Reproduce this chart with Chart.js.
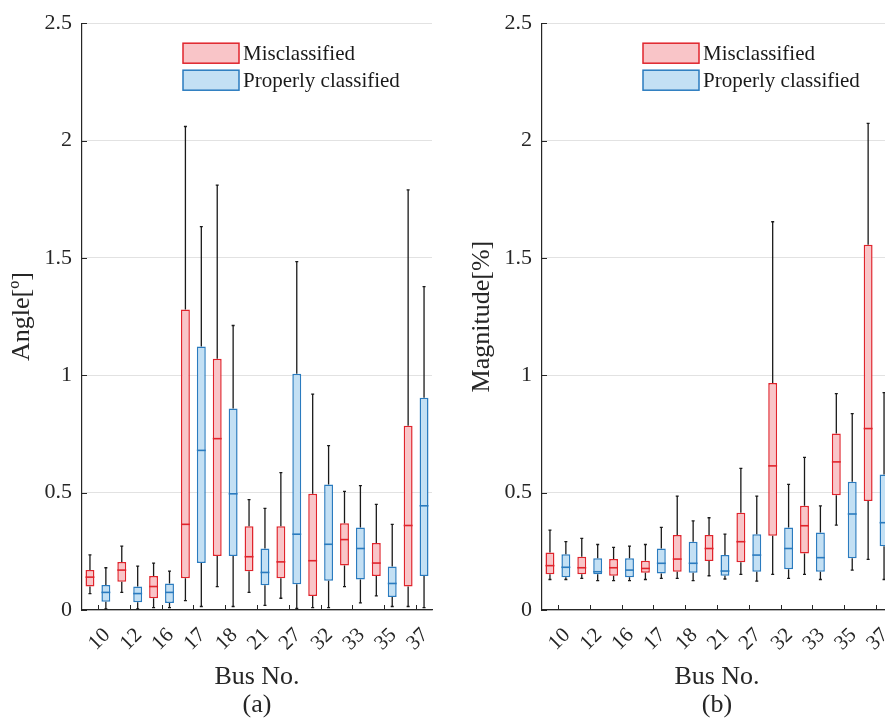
<!DOCTYPE html>
<html>
<head>
<meta charset="utf-8">
<title>Angle / Magnitude box plots per bus</title>
<script src="https://cdn.jsdelivr.net/npm/chart.js@4.4.0/dist/chart.umd.min.js"></script>
<style>
  html, body { margin: 0; padding: 0; background: #fff; overflow: hidden; }
  .panel { position: absolute; top: 0; width: 440px; height: 725px; }
  #panel-a { left: 0; }
  #panel-b { left: 460px; }
</style>
</head>
<body>
<div class="panel" id="panel-a"><canvas id="chart-a" width="440" height="725"></canvas></div>
<div class="panel" id="panel-b"><canvas id="chart-b" width="440" height="725"></canvas></div>
<script>
const buses = ['10', '12', '16', '17', '18', '21', '27', '32', '33', '35', '37'];
const yTicks = [0, 0.5, 1, 1.5, 2, 2.5];
const seriesNames = ['Misclassified', 'Properly classified'];

// (a) angle error, misclassified
const angMisMin = [0.07, 0.075, 0.01, 0.04, 0.10, 0.075, 0.05, 0.01, 0.10, 0.06, 0.015];
const angMisQ1  = [0.10, 0.12, 0.05, 0.135, 0.23, 0.165, 0.135, 0.06, 0.19, 0.145, 0.10];
const angMisMed = [0.14, 0.17, 0.10, 0.365, 0.73, 0.227, 0.205, 0.21, 0.30, 0.20, 0.36];
const angMisQ3  = [0.17, 0.205, 0.145, 1.28, 1.07, 0.357, 0.357, 0.495, 0.37, 0.285, 0.785];
const angMisMax = [0.235, 0.272, 0.20, 2.06, 1.81, 0.47, 0.585, 0.92, 0.505, 0.45, 1.79];

// (a) angle error, properly classified
const angOkMin = [0.005, 0.005, 0.01, 0.015, 0.015, 0.02, 0.007, 0.01, 0.03, 0.015, 0.01];
const angOkQ1  = [0.035, 0.033, 0.03, 0.20, 0.23, 0.105, 0.11, 0.125, 0.13, 0.055, 0.145];
const angOkMed = [0.075, 0.07, 0.075, 0.68, 0.495, 0.16, 0.323, 0.28, 0.262, 0.113, 0.444];
const angOkQ3  = [0.106, 0.10, 0.113, 1.123, 0.858, 0.262, 1.007, 0.535, 0.352, 0.185, 0.904];
const angOkMax = [0.18, 0.187, 0.166, 1.633, 1.212, 0.433, 1.484, 0.70, 0.53, 0.365, 1.378];

// (b) magnitude error, misclassified
const magMisMin = [0.13, 0.135, 0.125, 0.13, 0.135, 0.146, 0.152, 0.152, 0.152, 0.362, 0.216];
const magMisQ1  = [0.152, 0.152, 0.146, 0.159, 0.163, 0.209, 0.203, 0.316, 0.241, 0.489, 0.464];
const magMisMed = [0.189, 0.18, 0.18, 0.177, 0.217, 0.262, 0.291, 0.614, 0.359, 0.631, 0.773];
const magMisQ3  = [0.245, 0.227, 0.217, 0.21, 0.319, 0.319, 0.414, 0.967, 0.444, 0.752, 1.556];
const magMisMax = [0.34, 0.305, 0.267, 0.279, 0.485, 0.393, 0.603, 1.654, 0.65, 0.922, 2.073];

// (b) magnitude error, properly classified
const magOkMin = [0.13, 0.125, 0.125, 0.135, 0.125, 0.132, 0.123, 0.135, 0.13, 0.17, 0.13];
const magOkQ1  = [0.139, 0.152, 0.139, 0.156, 0.159, 0.146, 0.163, 0.174, 0.163, 0.22, 0.272];
const magOkMed = [0.182, 0.163, 0.17, 0.199, 0.199, 0.166, 0.234, 0.262, 0.223, 0.409, 0.372];
const magOkQ3  = [0.238, 0.22, 0.22, 0.262, 0.291, 0.234, 0.323, 0.352, 0.33, 0.546, 0.577];
const magOkMax = [0.291, 0.279, 0.272, 0.352, 0.38, 0.323, 0.485, 0.535, 0.444, 0.837, 0.926];

const FONT = '"Liberation Serif", "Times New Roman", serif';
const INK = '#262626';
const RED = { edge: '#e0242c', fill: '#f9c5c8' };
const BLUE = { edge: '#2a7bbf', fill: '#c3e0f4' };

// whiskers + median lines on top of the floating bars
const boxWhiskers = {
  id: 'boxWhiskers',
  afterDatasetsDraw(chart) {
    const { ctx } = chart;
    const y = chart.scales.y;
    chart.data.datasets.forEach((ds, di) => {
      chart.getDatasetMeta(di).data.forEach((bar, i) => {
        const x = bar.x, half = bar.width / 2;
        const pMin = y.getPixelForValue(ds.wMin[i]);
        const pMax = y.getPixelForValue(ds.wMax[i]);
        const pQ1 = y.getPixelForValue(ds.data[i][0]);
        const pQ3 = y.getPixelForValue(ds.data[i][1]);
        const pMed = y.getPixelForValue(ds.median[i]);
        ctx.save();
        ctx.strokeStyle = '#1a1a1a';
        ctx.lineWidth = 1.3;
        ctx.beginPath();
        ctx.moveTo(x, pQ3); ctx.lineTo(x, pMax);
        ctx.moveTo(x, pQ1); ctx.lineTo(x, pMin);
        ctx.moveTo(x - 1.5, pMax); ctx.lineTo(x + 1.5, pMax);
        ctx.moveTo(x - 1.5, pMin); ctx.lineTo(x + 1.5, pMin);
        ctx.stroke();
        ctx.strokeStyle = ds.borderColor;
        ctx.lineWidth = 1.6;
        ctx.beginPath();
        ctx.moveTo(x - half, pMed); ctx.lineTo(x + half, pMed);
        ctx.stroke();
        ctx.restore();
      });
    });
  }
};

// matlab style inward tick marks
const innerTicks = {
  id: 'innerTicks',
  afterDraw(chart) {
    const { ctx, chartArea } = chart;
    const { x, y } = chart.scales;
    ctx.save();
    ctx.strokeStyle = INK;
    ctx.lineWidth = 1;
    ctx.beginPath();
    x.ticks.forEach((t, i) => {
      const px = Math.round(x.getPixelForTick(i)) + 0.5;
      ctx.moveTo(px, chartArea.bottom); ctx.lineTo(px, chartArea.bottom - 5);
    });
    y.ticks.forEach((t, i) => {
      const py = Math.round(y.getPixelForTick(i)) + 0.5;
      ctx.moveTo(chartArea.left, py); ctx.lineTo(chartArea.left + 5, py);
    });
    ctx.stroke();
    ctx.restore();
  }
};

// legend sits inside the axes, top middle
const innerLegend = {
  id: 'innerLegend',
  afterDraw(chart) {
    const { ctx, chartArea } = chart;
    const x0 = chartArea.left + 101, y0 = chartArea.top + 20;
    ctx.save();
    chart.data.datasets.forEach((ds, i) => {
      const top = y0 + i * 27;
      ctx.fillStyle = ds.backgroundColor;
      ctx.fillRect(x0, top, 56, 20);
      ctx.strokeStyle = ds.borderColor;
      ctx.lineWidth = 1.5;
      ctx.strokeRect(x0, top, 56, 20);
      ctx.fillStyle = '#1a1a1a';
      ctx.font = '21px ' + FONT;
      ctx.textBaseline = 'middle';
      ctx.textAlign = 'left';
      ctx.fillText(ds.label, x0 + 60, top + 11);
    });
    ctx.restore();
  }
};

function boxSet(label, colors, min, q1, med, q3, max) {
  return {
    label,
    data: buses.map((b, i) => [q1[i], q3[i]]),
    wMin: min,
    wMax: max,
    median: med,
    backgroundColor: colors.fill,
    borderColor: colors.edge,
    borderWidth: 1.5,
    borderSkipped: false,
    barPercentage: 0.56,
    categoryPercentage: 1.0
  };
}

function makePanel(id, yTitle, tag, misSet, okSet) {
  return new Chart(document.getElementById(id), {
    type: 'bar',
    data: { labels: buses, datasets: [misSet, okSet] },
    options: {
      responsive: false,
      animation: false,
      layout: { padding: { top: 22, right: 8, bottom: 0, left: 0 } },
      plugins: { legend: { display: false }, tooltip: { enabled: false } },
      scales: {
        x: {
          grid: { display: false },
          border: { display: true, color: INK, width: 1.2 },
          ticks: {
            color: INK, font: { family: FONT, size: 21 },
            maxRotation: 45, minRotation: 45, autoSkip: false,
            padding: 5, labelOffset: 9
          },
          title: {
            display: true, text: ['Bus No.', tag], color: INK,
            font: { family: FONT, size: 26, lineHeight: 1.08 },
            padding: { top: 0, bottom: 6 }
          },
          afterFit(s) { s.height = 115; }
        },
        y: {
          min: 0, max: 2.5,
          afterBuildTicks(s) { s.ticks = yTicks.map(v => ({ value: v })); },
          grid: { color: '#e2e2e2', lineWidth: 1, drawTicks: false },
          border: { display: true, color: INK, width: 1.2 },
          ticks: {
            color: INK, font: { family: FONT, size: 22 }, padding: 10,
            callback: v => String(v)
          },
          title: {
            display: true, text: yTitle, color: INK,
            font: { family: FONT, size: 26, lineHeight: 1.08 },
            padding: { top: 8, bottom: 0 }
          },
          afterFit(s) { s.width = 82; }
        }
      }
    },
    plugins: [boxWhiskers, innerTicks, innerLegend]
  });
}

makePanel('chart-a', 'Angle[º]', '(a)',
  boxSet(seriesNames[0], RED, angMisMin, angMisQ1, angMisMed, angMisQ3, angMisMax),
  boxSet(seriesNames[1], BLUE, angOkMin, angOkQ1, angOkMed, angOkQ3, angOkMax));

makePanel('chart-b', 'Magnitude[%]', '(b)',
  boxSet(seriesNames[0], RED, magMisMin, magMisQ1, magMisMed, magMisQ3, magMisMax),
  boxSet(seriesNames[1], BLUE, magOkMin, magOkQ1, magOkMed, magOkQ3, magOkMax));
</script>
</body>
</html>
